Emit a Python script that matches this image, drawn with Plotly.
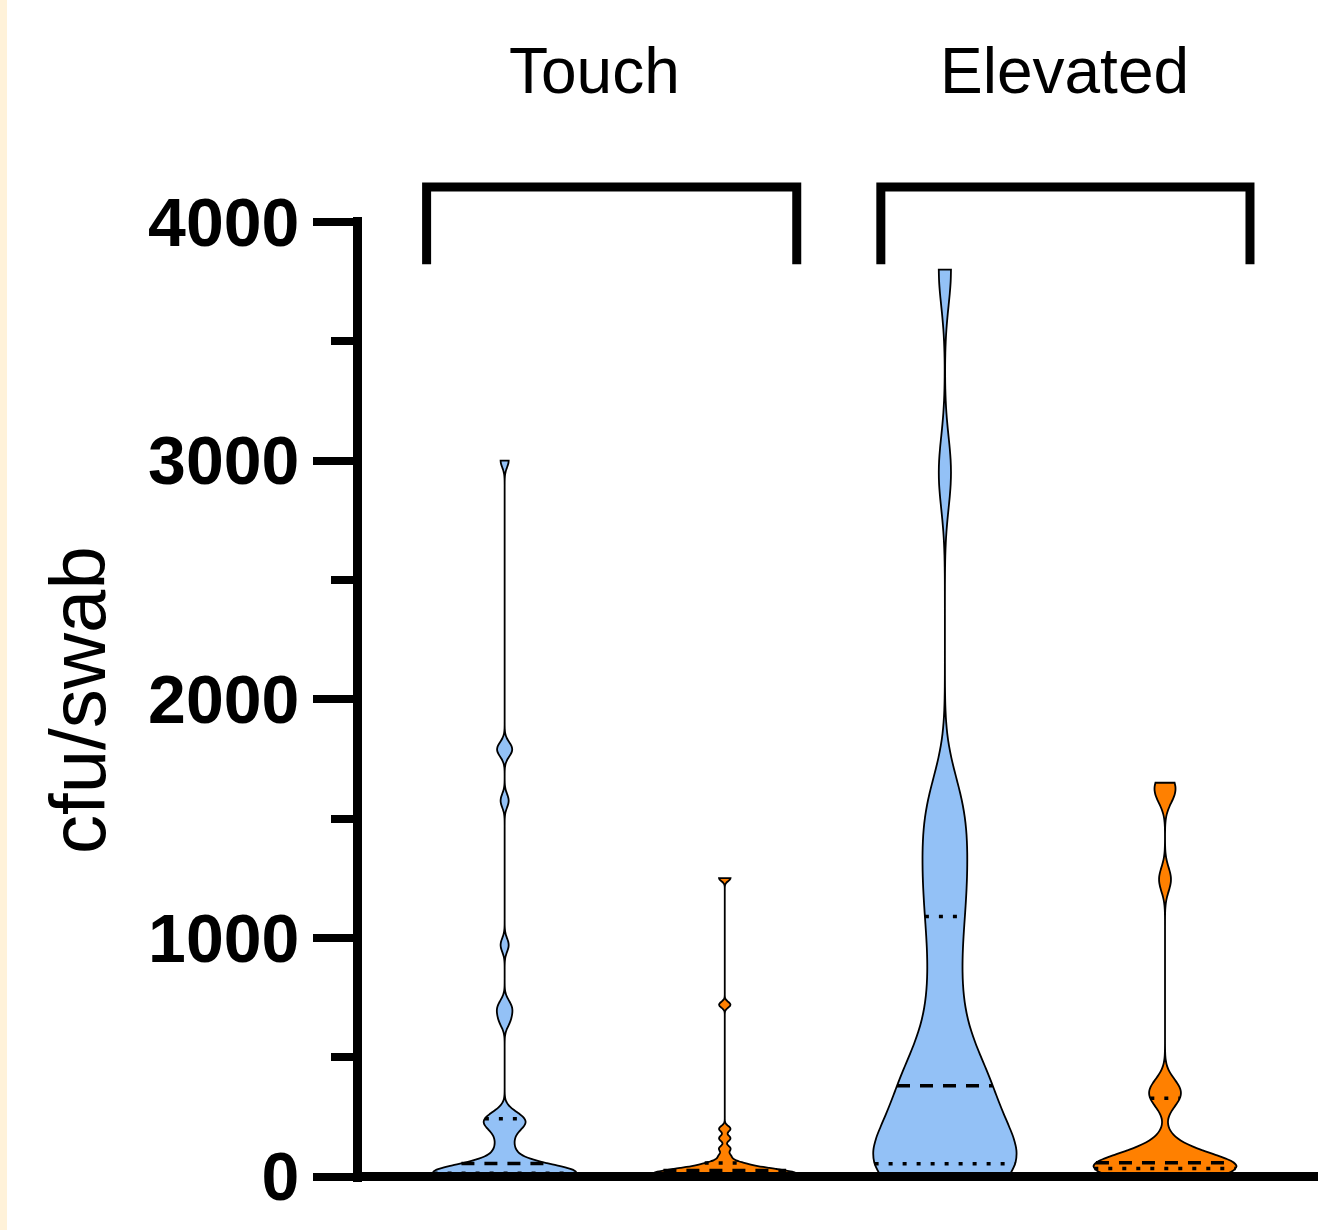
import numpy as np
import plotly.graph_objects as go

# ---------------- data ----------------
groups = ["Touch", "Touch", "Elevated", "Elevated"]
series = ["Blue", "Orange", "Blue", "Orange"]

touch_blue = [0, 0, 0, 0, 5, 5, 5, 10, 10, 10,
              15, 20, 20, 25, 30, 30, 35, 40, 45, 50,
              60, 80, 100, 130, 160, 190, 210, 220, 230, 240,
              250, 270, 650, 690, 720, 970, 1575, 1780, 1800, 3000]
touch_orange = [0, 0, 0, 0, 5, 5, 8,
                10, 10, 15, 15, 20, 20, 25,
                25, 30, 30, 35, 40, 45, 55,
                60, 85, 117, 160, 200, 720, 1250]
elevated_blue = [10, 15, 20, 25, 30, 35, 40, 45,
                 80, 140, 190, 240, 290, 330, 360,
                 400, 440, 500, 600, 720, 860, 1000,
                 1120, 1220, 1320, 1420, 1520, 1620, 2950, 3800]
elevated_orange = [10, 15, 20, 25, 30, 35, 40, 45, 50, 55, 60, 70, 90, 140,
                   320, 350, 380, 1245, 1600, 1650]

values = [touch_blue, touch_orange, elevated_blue, elevated_orange]
bandwidths = [28, 12, 150, 50]

y_tick_vals = [0, 1000, 2000, 3000, 4000]
y_tick_text = ["0", "1000", "2000", "3000", "4000"]
y_title = "cfu/swab"
bracket_labels = ["Touch", "Elevated"]

# ---------------- styling ----------------
colors = {"Blue": "#93C1F6", "Orange": "#FF8000"}
FONT = "Arial, Liberation Sans, Helvetica, sans-serif"
VIOLIN_WIDTH = 0.65
X_RANGE = [-0.648, 3.695]
Y_RANGE = [-23.05, 4020.95]
W, H = 1318, 1230
ML, MR, MT, MB = 362, 0, 217, 48


def kde_factory(vals, bw):
    v = np.asarray(vals, dtype=float)
    lo, hi = v.min(), v.max()
    n = int(np.ceil((hi - lo) / (bw / 3.0)))
    step = (hi - lo) / n
    t = lo + step * np.arange(n + 1)

    def kde(x):
        x = np.atleast_1d(np.asarray(x, dtype=float))
        z = (x[:, None] - v[None, :]) / bw
        return np.exp(-0.5 * z * z).sum(axis=1) / (len(v) * bw * np.sqrt(2 * np.pi))

    return kde, kde(t).max()


fig = go.Figure()

for i, (g, s, vals, bw) in enumerate(zip(groups, series, values, bandwidths)):
    fig.add_trace(go.Violin(
        y=vals, x0=i, name=f"{g} {s}", width=VIOLIN_WIDTH,
        bandwidth=bw, spanmode="hard", points=False,
        fillcolor=colors[s], line=dict(color="black", width=1.8),
        box_visible=False, meanline_visible=False, showlegend=False,
        hoverinfo="y", scalegroup=f"g{i}",
    ))

# quartile lines (dashed median, dotted quartiles)
for i, (vals, bw) in enumerate(zip(values, bandwidths)):
    kde, mx = kde_factory(vals, bw)
    q1, med, q3 = np.percentile(vals, [25, 50, 75])
    for q, dash in ((q1, "4px,10px"), (q3, "4px,10px"), (med, "13px,10px")):
        hw = float(kde(q)[0] / mx) * VIOLIN_WIDTH / 2
        fig.add_trace(go.Scatter(
            x=[i - hw, i + hw], y=[q, q], mode="lines",
            line=dict(color="black", width=3.5, dash=dash),
            showlegend=False, hoverinfo="skip",
        ))


def xp(xd):
    return (xd - X_RANGE[0]) / (X_RANGE[1] - X_RANGE[0])


shapes = []
# cream strip at the far left
shapes.append(dict(type="rect", xref="paper", yref="paper",
                   x0=-ML / (W - ML - MR), x1=(7 - ML) / (W - ML - MR),
                   y0=-0.06, y1=1.24, fillcolor="#FFF2D9", line=dict(width=0),
                   layer="below"))
# x axis baseline
shapes.append(dict(type="line", xref="paper", yref="y", x0=0, x1=1, y0=0, y1=0,
                   line=dict(color="black", width=9), layer="above"))
# group brackets
for xa, xb in ((-0.3545, 1.327), (1.709, 3.386)):
    shapes.append(dict(type="path", xref="paper", yref="paper",
                       path=f"M{xp(xa)},0.951 L{xp(xa)},1.0311 L{xp(xb)},1.0311 L{xp(xb)},0.951",
                       line=dict(color="black", width=9)))

annotations = []
for lab, xd in zip(bracket_labels, (0.409, 2.545)):
    annotations.append(dict(text=lab, x=xd, xref="x", y=1.1513, yref="paper",
                            xanchor="center", yanchor="middle", showarrow=False,
                            font=dict(family=FONT, size=64, color="black")))
annotations.append(dict(text=y_title, x=(78 - ML) / (W - ML - MR), xref="paper",
                        y=0.4995, yref="paper", textangle=-90, xanchor="center",
                        yanchor="middle", showarrow=False,
                        font=dict(family=FONT, size=78, color="black")))

fig.update_layout(
    width=W, height=H, margin=dict(l=ML, r=MR, t=MT, b=MB, pad=0),
    paper_bgcolor="white", plot_bgcolor="white",
    violinmode="overlay",
    xaxis=dict(range=X_RANGE, visible=False, showgrid=False, zeroline=False),
    yaxis=dict(range=Y_RANGE, showline=True, linewidth=9, linecolor="black",
               ticks="outside", ticklen=40, tickwidth=8, tickcolor="black",
               tickvals=y_tick_vals, ticktext=y_tick_text,
               tickfont=dict(family=FONT, size=68, color="black", weight="bold"),
               showgrid=False, zeroline=False,
               minor=dict(ticks="outside", ticklen=22, tickwidth=8, tickcolor="black",
                          dtick=500, tick0=0, showgrid=False)),
    shapes=shapes, annotations=annotations,
)

fig.write_html("out.html", config={"displayModeBar": False},
               post_script="document.body.style.margin='0';document.body.style.overflow='hidden';")
